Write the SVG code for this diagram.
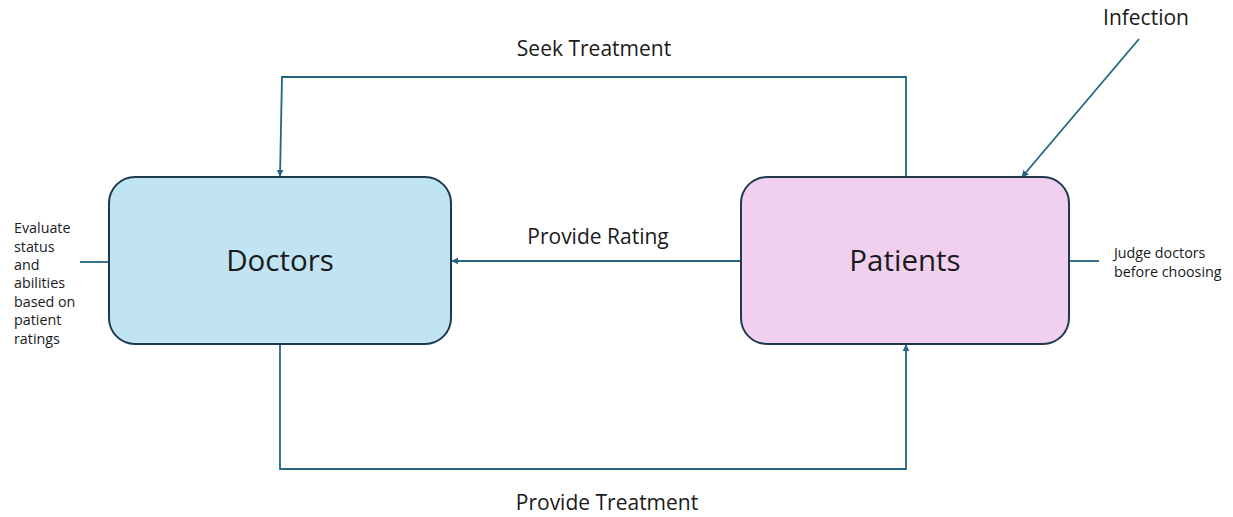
<svg xmlns="http://www.w3.org/2000/svg" width="1233" height="517" viewBox="0 0 1233 517">
<style>
.box{stroke:#1e3a4c;stroke-width:2}
.conn{fill:none;stroke:#236682;stroke-width:1.8}
.lbl{font-family:"Open Sans","Liberation Sans",sans-serif;fill:#1a1a1a}
.big{font-size:29.5px;text-anchor:middle}
.mid{font-size:21px;text-anchor:middle}
.small{font-size:14.3px}
</style>
<defs>
<marker id="ah" viewBox="0 0 10 10" refX="9" refY="5" markerWidth="7" markerHeight="7" markerUnits="userSpaceOnUse" orient="auto">
<path d="M0,0 L10,5 L0,10 z" fill="#236682"/>
</marker>
</defs>
<rect width="1233" height="517" fill="#ffffff"/>
<g id="connectors">
<path class="conn" d="M906,177 L906,77 L282,77 L280,176" marker-end="url(#ah)"/>
<path class="conn" d="M741,261 L452,261" marker-end="url(#ah)"/>
<path class="conn" d="M280,344 L280,469 L906,469 L906,345" marker-end="url(#ah)"/>
<path class="conn" d="M1139,39 L1022,177" marker-end="url(#ah)"/>
<path class="conn" d="M80,262 L109,262"/>
<path class="conn" d="M1069,261 L1099,261"/>
<text class="lbl mid" x="594" y="56">Seek Treatment</text>
<text class="lbl mid" x="598" y="244">Provide Rating</text>
<text class="lbl mid" x="607" y="510">Provide Treatment</text>
<text class="lbl mid" x="1146" y="25">Infection</text>
</g>
<g id="doctors">
<rect class="box" x="109" y="177" width="342" height="167" rx="26" fill="#c0e4f4"/>
<text class="lbl big" x="280" y="271">Doctors</text>
</g>
<g id="patients">
<rect class="box" x="741" y="177" width="328" height="167" rx="26" fill="#f1d0ef"/>
<text class="lbl big" x="905" y="271">Patients</text>
</g>
<g id="doctors-note">
<text class="lbl small" x="14" y="233">Evaluate</text>
<text class="lbl small" x="14" y="252">status</text>
<text class="lbl small" x="14" y="270">and</text>
<text class="lbl small" x="14" y="288">abilities</text>
<text class="lbl small" x="14" y="307">based on</text>
<text class="lbl small" x="14" y="325">patient</text>
<text class="lbl small" x="14" y="344">ratings</text>
</g>
<g id="patients-note">
<text class="lbl small" x="1114" y="258">Judge doctors</text>
<text class="lbl small" x="1114" y="277">before choosing</text>
</g>
</svg>
